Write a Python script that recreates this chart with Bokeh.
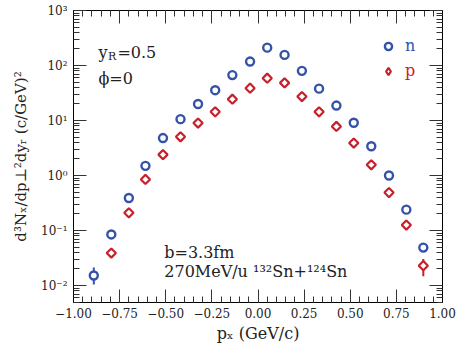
import numpy as np
from bokeh.plotting import figure
from bokeh.models import (LinearAxis, LogAxis, FixedTicker, Label, Legend,
                          LegendItem, Range1d)
from bokeh.embed import file_html
from bokeh.resources import INLINE

# ---- data ----
px_n = [-0.89, -0.795, -0.70, -0.61, -0.515, -0.42, -0.325, -0.232, -0.139, -0.043,
        0.05, 0.144, 0.238, 0.331, 0.425, 0.519, 0.614, 0.71, 0.804, 0.896]
yield_n = [0.0152, 0.085, 0.39, 1.5, 4.8, 10.6, 20, 35.6, 67, 118,
           211, 156, 80, 38, 18.7, 9.1, 3.4, 1.0, 0.24, 0.049]
px_p = [-0.795, -0.70, -0.61, -0.515, -0.42, -0.325, -0.232, -0.139, -0.043,
        0.05, 0.144, 0.238, 0.331, 0.425, 0.519, 0.614, 0.71, 0.804, 0.896]
yield_p = [0.039, 0.21, 0.85, 2.4, 5.06, 9.0, 14.4, 24.4, 38.7,
           58.8, 48.3, 27.3, 14.4, 7.8, 3.9, 1.57, 0.49, 0.126, 0.023]
# error bars visible in the reference
err_n_x = [-0.89]
err_n_lo = [0.0104]
err_n_hi = [0.0212]
err_p_x = [0.896]
err_p_lo = [0.0148]
err_p_hi = [0.0305]

x_ticks = [-1.0, -0.75, -0.5, -0.25, 0.0, 0.25, 0.5, 0.75, 1.0]
x_tick_labels = ["\u22121.00", "\u22120.75", "\u22120.50", "\u22120.25", "0.00",
                 "0.25", "0.50", "0.75", "1.00"]
y_ticks = [1e-2, 1e-1, 1e0, 1e1, 1e2, 1e3]
y_tick_labels = ["10\u207b\u00b2", "10\u207b\u00b9", "10\u2070", "10\u00b9", "10\u00b2", "10\u00b3"]

BLUE = "#3452a8"
RED = "#c8202a"
FONT = "DejaVu Serif"
Y0, Y1 = 0.00492, 1000

p = figure(width=457, height=347, x_range=Range1d(-1.0, 1.0),
           y_range=Range1d(Y0, Y1), y_axis_type="log",
           output_backend="svg", toolbar_location=None,
           min_border_left=73, min_border_right=15, min_border_top=10,
           min_border_bottom=45)
p.grid.visible = False
p.outline_line_color = "black"
p.background_fill_color = "white"
p.border_fill_color = "white"

bottom = p.below[0]
left = p.left[0]

x_minor = [round(-1.0 + 0.05 * i, 2) for i in range(41)]
y_minor = [m * 10.0 ** e for e in range(-3, 3) for m in range(2, 10)]

top = LinearAxis()
right = LogAxis()
p.add_layout(top, "above")
p.add_layout(right, "right")

for ax in [bottom, top]:
    ax.ticker = FixedTicker(ticks=x_ticks, minor_ticks=x_minor)
for ax in [left, right]:
    ax.ticker = FixedTicker(ticks=y_ticks, minor_ticks=y_minor)

bottom.major_label_overrides = dict(zip(x_ticks, x_tick_labels))
left.major_label_overrides = dict(zip(y_ticks, y_tick_labels))
top.major_label_overrides = {t: "" for t in x_ticks}
right.major_label_overrides = {t: "" for t in y_ticks}

for ax in [bottom, left, top, right]:
    ax.major_tick_in = 13
    ax.major_tick_out = 0
    ax.minor_tick_in = 6
    ax.minor_tick_out = 0
    ax.axis_line_color = "black"
    ax.major_tick_line_color = "#333333"
    ax.minor_tick_line_color = "#333333"
    ax.major_label_text_font = FONT
    ax.major_label_text_font_size = "12px"
    ax.major_label_text_color = "#222222"
    ax.axis_label_text_font = FONT
    ax.axis_label_text_font_style = "normal"
    ax.axis_label_text_font_size = "16px"
    ax.axis_label_text_color = "#222222"

for ax in [top, right]:
    ax.major_label_standoff = 0

bottom.major_label_standoff = 5
bottom.axis_label_standoff = 3
bottom.axis_label = "p\u2093 (GeV/c)"
left.major_label_standoff = 6
left.axis_label_standoff = 8
left.axis_label_text_font_size = "15px"
left.axis_label = "d\u00b3N\u2093/dp\u22a5\u00b2dy\u1d63 (c/GeV)\u00b2"

# error bars
p.segment(x0=err_n_x, y0=err_n_lo, x1=err_n_x, y1=err_n_hi, line_color=BLUE, line_width=2)
p.segment(x0=err_p_x, y0=err_p_lo, x1=err_p_x, y1=err_p_hi, line_color=RED, line_width=2)

rn = p.scatter(px_n, yield_n, marker="circle", size=8, fill_color="white",
               line_color=BLUE, line_width=2.4)
rp = p.scatter(px_p, yield_p, marker="square", angle=np.pi / 4, size=6.5,
               fill_color="white", line_color=RED, line_width=2.2)
# legend key for p drawn as a diamond (legend keys ignore marker angle)
rp_key = p.scatter([np.nan], [np.nan], marker="diamond", size=10, fill_color="white",
                   line_color=RED, line_width=2.2)

for r, lab, col, loc in [(rn, "n", BLUE, (306, 247)), (rp_key, "p", RED, (306, 222))]:
    lg = Legend(items=[LegendItem(label=lab, renderers=[r])], location=loc,
                border_line_color=None, background_fill_alpha=0,
                padding=0, margin=0, glyph_width=18, glyph_height=18,
                label_standoff=8, label_text_font=FONT, label_text_font_size="16px",
                label_text_color=col)
    p.add_layout(lg)

def lab(x, y, text, size="16px", dx=0, dy=0):
    p.add_layout(Label(x=x, y=y, text=text, x_offset=dx, y_offset=dy,
                       text_font=FONT, text_font_size=size, text_color="#222222",
                       text_baseline="alphabetic"))

# y_R = 0.5
lab(-0.865, 173, "y")
lab(-0.865, 173, "R", size="11px", dx=9.5, dy=-4)
lab(-0.865, 173, "=0.5", dx=19)
lab(-0.865, 57, "\u03d5=0")
lab(-0.508, 0.0405, "b=3.3fm")
lab(-0.508, 0.0179, "270MeV/u \u00b9\u00b3\u00b2Sn+\u00b9\u00b2\u2074Sn")

open("out.html", "w").write(file_html(p, INLINE))
